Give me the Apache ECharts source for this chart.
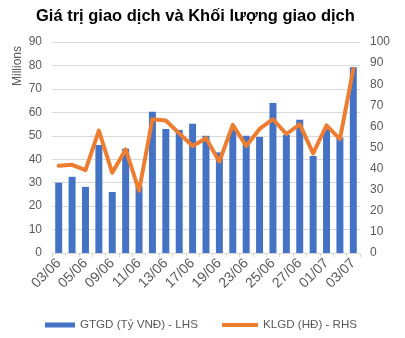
<!DOCTYPE html>
<html>
<head>
<meta charset="utf-8">
<script src="https://cdn.jsdelivr.net/npm/echarts@6/dist/echarts.min.js"></script>
<style>
  html, body { margin: 0; padding: 0; background: #fff; }
  #chart { width: 405px; height: 338px; }
</style>
</head>
<body>
<div id="chart"></div>
<script>
// Trading days (dd/mm)
const categories = [
  '03/06', '04/06', '05/06', '06/06', '09/06', '10/06', '11/06', '12/06',
  '13/06', '16/06', '17/06', '18/06', '19/06', '20/06', '23/06', '24/06',
  '25/06', '26/06', '27/06', '30/06', '01/07', '02/07', '03/07'
];
// Trading value, left axis (millions)
const tradingValue = [
  30.0, 32.5, 28.2, 46.1, 26.0, 44.5, 28.5, 60.3,
  52.9, 52.5, 55.1, 50.0, 42.9, 52.5, 50.0, 49.5,
  64.0, 50.4, 56.8, 41.4, 52.8, 49.2, 79.2
];
// Trading volume, right axis
const tradingVolume = [
  41.4, 41.8, 39.3, 58.0, 38.0, 49.1, 29.5, 63.4,
  62.8, 56.7, 50.7, 54.4, 43.3, 60.7, 50.7, 58.8,
  63.4, 56.4, 61.0, 47.2, 60.5, 54.0, 87.2
];
const leftTicks = { min: 0, max: 90, interval: 10 };
const rightTicks = { min: 0, max: 100, interval: 10 };

const font = 'Liberation Sans, Arial, sans-serif';
const grey = '#595959';
const valueName = 'GTGD (Tỷ VNĐ) - LHS';
const volumeName = 'KLGD (HĐ) - RHS';

const chart = echarts.init(document.getElementById('chart'), null, { renderer: 'canvas' });
const legendText = { fontFamily: font, fontSize: 11.6, color: grey };
chart.setOption({
  animation: false,
  textStyle: { fontFamily: font },
  title: {
    text: 'Giá trị giao dịch và Khối lượng giao dịch',
    left: 31,
    top: 3,
    textStyle: { fontFamily: font, fontSize: 16.5, fontWeight: 'bold', color: '#000' }
  },
  graphic: [
    {
      type: 'text',
      x: 12,
      y: 86,
      rotation: Math.PI / 2,
      style: { text: 'Millions', font: '12px ' + font, fill: grey }
    }
  ],
  grid: { left: 52, right: 45, top: 42, bottom: 85 },
  legend: [
    {
      left: 40,
      top: 314,
      itemWidth: 30,
      itemHeight: 5,
      textStyle: legendText,
      data: [{ name: valueName, icon: 'rect' }]
    },
    {
      left: 217,
      top: 314,
      itemWidth: 36,
      itemHeight: 4,
      textStyle: legendText,
      data: [{ name: volumeName, icon: 'rect' }]
    }
  ],
  xAxis: {
    type: 'category',
    data: categories,
    boundaryGap: true,
    axisLine: { lineStyle: { color: '#D9D9D9', width: 1 } },
    axisTick: { show: true, alignWithLabel: false, interval: 0, length: 4, lineStyle: { color: '#D9D9D9' } },
    axisLabel: { interval: 1, rotate: 45, fontSize: 14, color: grey, fontFamily: font, margin: 8 }
  },
  yAxis: [
    {
      type: 'value',
      min: leftTicks.min, max: leftTicks.max, interval: leftTicks.interval,
      axisLine: { show: false },
      axisTick: { show: false },
      axisLabel: { fontSize: 12, color: grey, fontFamily: font, margin: 10 },
      splitLine: { lineStyle: { color: '#D9D9D9', width: 1 } }
    },
    {
      type: 'value',
      min: rightTicks.min, max: rightTicks.max, interval: rightTicks.interval,
      axisLine: { show: false },
      axisTick: { show: false },
      axisLabel: { fontSize: 12, color: grey, fontFamily: font, margin: 10 },
      splitLine: { show: false }
    }
  ],
  series: [
    {
      name: valueName,
      type: 'bar',
      yAxisIndex: 0,
      data: tradingValue,
      barWidth: '52%',
      itemStyle: { color: '#4472C4' }
    },
    {
      name: volumeName,
      type: 'line',
      yAxisIndex: 1,
      data: tradingVolume,
      symbol: 'none',
      lineStyle: { color: '#ED7D31', width: 4, join: 'round', cap: 'round' },
      itemStyle: { color: '#ED7D31' }
    }
  ]
});
</script>
</body>
</html>
